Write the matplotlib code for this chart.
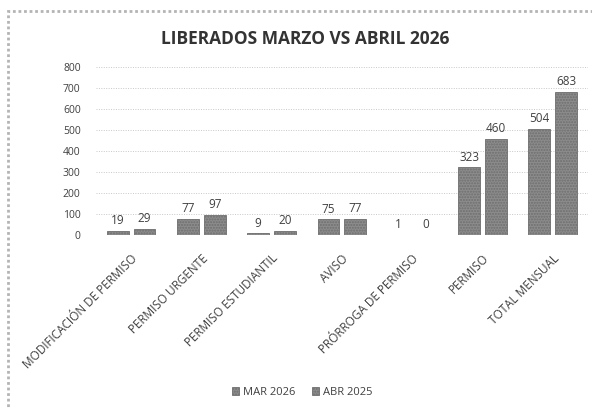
import matplotlib.pyplot as plt
import numpy as np
from matplotlib.patches import Rectangle

CATEGORIES = [
    "MODIFICACIÓN DE PERMISO",
    "PERMISO URGENTE",
    "PERMISO ESTUDIANTIL",
    "AVISO",
    "PRÓRROGA DE PERMISO",
    "PERMISO",
    "TOTAL MENSUAL",
]
MAR_2026 = [19, 77, 9, 75, 1, 323, 504]
ABR_2026 = [29, 97, 20, 77, 0, 460, 683]
SERIES_LABELS = ["MAR 2026", "ABR 2025"]
Y_TICKS = [0, 100, 200, 300, 400, 500, 600, 700, 800]

BAR_COLOR = "#8c8c8c"
EDGE_COLOR = "#6e6e6e"
TEXT_COLOR = "#404040"

plt.rcParams["font.family"] = ["Open Sans", "DejaVu Sans"]

fig = plt.figure(figsize=(5.92, 4.09), dpi=100)
ax = fig.add_axes([0.162, 0.425, 0.831, 0.411])

# scanned-looking frame on left and top
fig.patches.append(
    Rectangle((0.013, -0.05), 1.1, 1.022, transform=fig.transFigure,
              fill=False, edgecolor="#b4b4b4", linewidth=2.0, linestyle=(0, (1, 1)))
)

x = np.arange(len(CATEGORIES))
width = 0.31
offset = 0.19
bars_mar = ax.bar(x - offset, MAR_2026, width, color=BAR_COLOR, edgecolor=EDGE_COLOR,
                  linewidth=0.6, hatch="......", label=SERIES_LABELS[0], zorder=3)
bars_abr = ax.bar(x + offset, ABR_2026, width, color=BAR_COLOR, edgecolor=EDGE_COLOR,
                  linewidth=0.6, hatch="......", label=SERIES_LABELS[1], zorder=3)

for bars, vals in ((bars_mar, MAR_2026), (bars_abr, ABR_2026)):
    for bar, v in zip(bars, vals):
        ax.text(bar.get_x() + bar.get_width() / 2, v + 18, str(v),
                ha="center", va="bottom", fontsize=8.5, color=TEXT_COLOR)

ax.set_xlim(-0.5, len(CATEGORIES) - 0.5)
ax.set_ylim(0, 800)
ax.set_yticks(Y_TICKS)
ax.tick_params(axis="y", length=0, labelsize=7.5, labelcolor=TEXT_COLOR, pad=11)
ax.set_xticks(x)
ax.set_xticklabels(CATEGORIES, rotation=45, ha="right", rotation_mode="anchor",
                   fontsize=8.5, color=TEXT_COLOR)
ax.tick_params(axis="x", length=0, pad=12)
ax.grid(axis="y", linestyle=(0, (1, 1.5)), color="#c8c8c8", linewidth=0.7, zorder=0)
for side in ax.spines.values():
    side.set_visible(False)

fig.text(0.515, 0.905, "LIBERADOS MARZO VS ABRIL 2026", ha="center", va="center",
         fontsize=12.5, fontweight="bold", color="#333333")

fig.legend(handles=[bars_mar, bars_abr], labels=SERIES_LABELS, loc="center",
           bbox_to_anchor=(0.51, 0.04), ncol=2, frameon=False, fontsize=8,
           handlelength=0.7, handleheight=0.7, handletextpad=0.3, columnspacing=1.5,
           labelcolor=TEXT_COLOR)

fig.savefig("out.png", dpi=100)
